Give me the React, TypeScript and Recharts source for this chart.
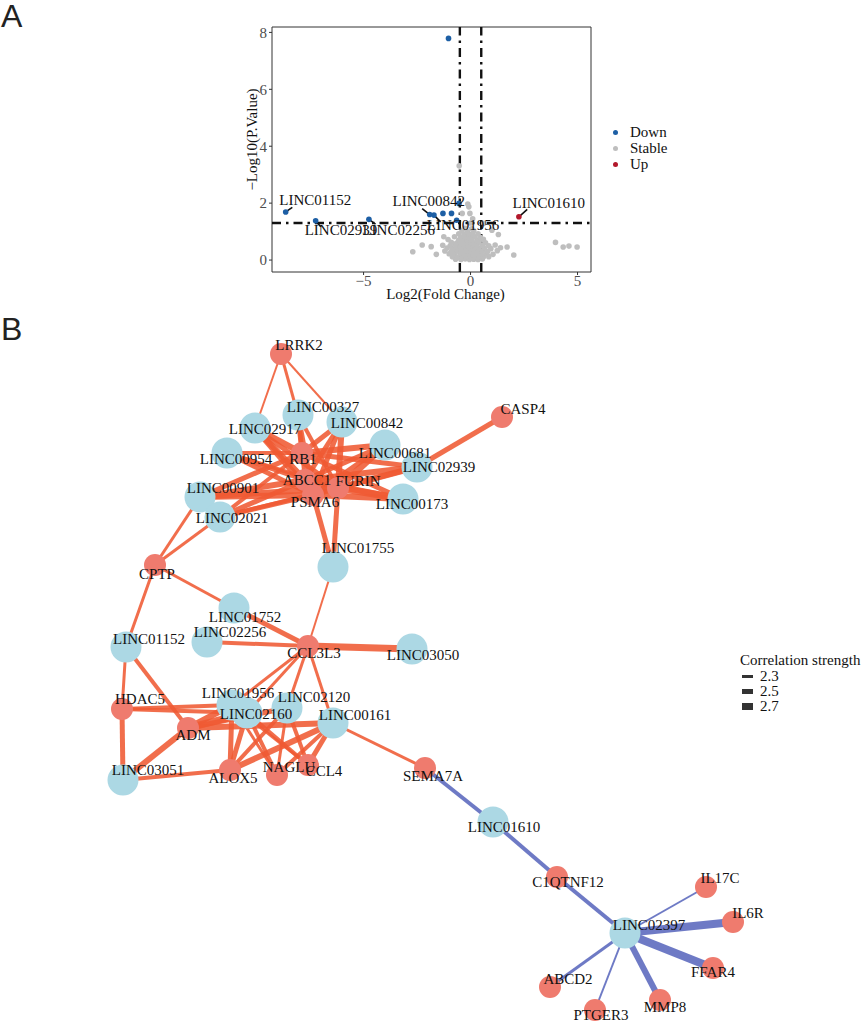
import React from "react";
import {
  ScatterChart,
  Scatter,
  XAxis,
  YAxis,
  ReferenceLine,
  ReferenceArea,
  Label,
} from "recharts";

const SERIF = '"Liberation Serif", "Times New Roman", serif';
const SANS = '"Liberation Sans", Arial, sans-serif';

// ---------- Panel A: volcano plot ----------
const fcTicks = [-5, 0, 5];
const pTicks = [0, 2, 4, 6, 8];
const fcCutoff = 0.5;
const pCutoff = 1.3;

const downGenes = [
  { fc: -1.03, p: 7.79 },
  { fc: -8.64, p: 1.69 },
  { fc: -7.24, p: 1.38 },
  { fc: -4.75, p: 1.43 },
  { fc: -1.91, p: 1.6 },
  { fc: -1.71, p: 1.58 },
  { fc: -1.29, p: 1.64 },
  { fc: -0.89, p: 1.64 },
  { fc: -0.65, p: 1.4 },
  { fc: -0.54, p: 1.99 },
];
const upGenes = [{ fc: 2.26, p: 1.52 }];

// [log2FC, -log10 p]
const stableGenes: [number, number][] = [
  [-0.7, 0.03], [-0.45, 0.02], [-0.25, 0.04], [-0.05, 0.02], [0.15, 0.03], [0.35, 0.02], [0.55, 0.04],
  [-0.85, 0.12], [-0.6, 0.1], [-0.4, 0.13], [-0.2, 0.11], [0, 0.12], [0.2, 0.1], [0.4, 0.13], [0.6, 0.11], [0.85, 0.12],
  [-1.0, 0.22], [-0.75, 0.2], [-0.5, 0.23], [-0.3, 0.21], [-0.1, 0.22], [0.1, 0.2], [0.3, 0.23], [0.5, 0.21], [0.75, 0.22], [1.05, 0.2],
  [-1.2, 0.32], [-0.9, 0.3], [-0.65, 0.33], [-0.45, 0.31], [-0.25, 0.32], [-0.05, 0.3], [0.15, 0.33], [0.35, 0.31], [0.55, 0.32], [0.8, 0.3], [1.25, 0.33],
  [-1.1, 0.42], [-0.85, 0.4], [-0.6, 0.43], [-0.4, 0.41], [-0.2, 0.42], [0, 0.4], [0.2, 0.43], [0.4, 0.41], [0.65, 0.42], [0.95, 0.4], [1.4, 0.43],
  [-1.3, 0.52], [-0.95, 0.5], [-0.7, 0.53], [-0.5, 0.51], [-0.3, 0.52], [-0.1, 0.5], [0.1, 0.53], [0.3, 0.51], [0.55, 0.52], [0.85, 0.5], [1.15, 0.53],
  [-0.9, 0.62], [-0.65, 0.6], [-0.45, 0.63], [-0.25, 0.61], [-0.05, 0.62], [0.15, 0.6], [0.4, 0.63], [0.7, 0.61],
  [-1.05, 0.72], [-0.55, 0.7], [-0.35, 0.73], [-0.15, 0.71], [0.05, 0.72], [0.3, 0.7], [0.6, 0.73],
  [-0.75, 0.82], [-0.45, 0.8], [-0.25, 0.83], [-0.05, 0.81], [0.2, 0.82], [0.45, 0.8],
  [-0.55, 0.92], [-0.3, 0.9], [-0.1, 0.93], [0.1, 0.91], [0.35, 0.92],
  [-0.4, 1.02], [-0.15, 1.0], [0.15, 1.03],
  [-0.25, 1.12], [0.05, 1.1],
  [-2.7, 0.29], [-2.26, 0.53], [-1.84, 0.47], [-1.6, 0.2], [-1.25, 0.82], [-0.81, 0.18],
  [-0.53, 3.31], [-0.39, 1.64], [-0.08, 1.87], [-0.03, 1.64], [-0.13, 1.97], [0.1, 1.45], [0.0, 1.3],
  [0.62, 1.29], [1.0, 1.05], [1.3, 0.9], [1.71, 0.46], [2.02, 0.18],
  [3.97, 0.62], [4.33, 0.46], [4.6, 0.49], [4.98, 0.46],
];

// labelled genes: point, text anchor (tx, ty) and repel segment end (sx, sy)
const labelledGenes = [
  { name: "LINC01152", fc: -8.64, p: 1.69, tx: -7.26, ty: 2.1, sx: -8.33, sy: 1.85 },
  { name: "LINC02939", fc: -7.24, p: 1.38, tx: -6.06, ty: 1.05, sx: -7.0, sy: 1.17 },
  { name: "LINC02256", fc: -4.75, p: 1.43, tx: -3.36, ty: 1.05, sx: -4.44, sy: 1.26 },
  { name: "LINC00842", fc: -1.91, p: 1.6, tx: -1.95, ty: 2.07, sx: -2.26, sy: 1.81 },
  { name: "LINC01956", fc: -1.71, p: 1.58, tx: -0.35, ty: 1.23, sx: -1.4, sy: 1.34 },
  { name: "LINC01610", fc: 2.26, p: 1.52, tx: 3.66, ty: 1.99, sx: 2.65, sy: 1.78 },
];

const volcanoGroups = [
  { name: "Down", color: "#1d5fa5" },
  { name: "Stable", color: "#bebebe" },
  { name: "Up", color: "#b2182b" },
];

const fmtTick = (v: number) => (v < 0 ? `\u2212${-v}` : `${v}`);

const dot = (color: string) => (props: any) =>
  <circle cx={props.cx} cy={props.cy} r={2.8} fill={color} />;

function Volcano() {
  const stableData = stableGenes.map(([fc, p]) => ({ fc, p }));
  const textData = labelledGenes.map((g) => ({ fc: g.tx, p: g.ty, name: g.name }));
  return (
    <ScatterChart
      width={600}
      height={302}
      margin={{ top: 27, right: 9, bottom: 0, left: 240 }}
    >
      <XAxis
        type="number"
        dataKey="fc"
        domain={[-9.28, 5.63]}
        ticks={fcTicks}
        interval={0}
        allowDataOverflow
        axisLine={false}
        tickSize={3}
        tickMargin={0}
        tickLine={{ stroke: "#333" }}
        tick={{ fill: "#4d4d4d", fontSize: 15, fontFamily: SERIF }}
        tickFormatter={fmtTick}
        height={30}
      >
        <Label
          content={(props: any) => {
            const vb = props.viewBox;
            return (
              <text
                x={vb.x + vb.width / 2 + 14}
                y={vb.y + vb.height - 3}
                textAnchor="middle"
                fontSize={15}
                fontFamily={SERIF}
                fill="#111"
              >
                Log2(Fold Change)
              </text>
            );
          }}
        />
      </XAxis>
      <YAxis
        type="number"
        dataKey="p"
        domain={[-0.42, 8.19]}
        ticks={pTicks}
        interval={0}
        allowDataOverflow
        axisLine={false}
        tickSize={3}
        tickLine={{ stroke: "#333" }}
        tick={{ fill: "#4d4d4d", fontSize: 15, fontFamily: SERIF }}
        width={32}
      >
        <Label
          content={(props: any) => {
            const vb = props.viewBox;
            const x = vb.x + 12;
            const y = vb.y + vb.height / 2 - 10;
            return (
              <text
                x={x}
                y={y}
                transform={`rotate(-90, ${x}, ${y})`}
                textAnchor="middle"
                dominantBaseline="central"
                fontSize={15}
                fontFamily={SERIF}
                fill="#111"
              >
                {"\u2212Log10(P.Value)"}
              </text>
            );
          }}
        />
      </YAxis>
      <ReferenceArea
        x1={-9.28}
        x2={5.63}
        y1={-0.42}
        y2={8.19}
        fill="none"
        stroke="#333"
        strokeWidth={1}
        ifOverflow="visible"
      />
      <Scatter data={stableData} shape={dot(volcanoGroups[1].color)} isAnimationActive={false} />
      <Scatter data={downGenes} shape={dot(volcanoGroups[0].color)} isAnimationActive={false} />
      <Scatter data={upGenes} shape={dot(volcanoGroups[2].color)} isAnimationActive={false} />
      {[-fcCutoff, fcCutoff].map((v) => (
        <ReferenceLine key={v} x={v} stroke="#111" strokeWidth={2.4} strokeDasharray="9 5 2.5 5" />
      ))}
      <ReferenceLine y={pCutoff} stroke="#111" strokeWidth={2.4} strokeDasharray="9 5 2.5 5" />
      {labelledGenes.map((g) => (
        <ReferenceLine
          key={g.name}
          segment={[{ x: g.fc, y: g.p }, { x: g.sx, y: g.sy }]}
          stroke="#111"
          strokeWidth={1.6}
          ifOverflow="visible"
        />
      ))}
      <Scatter
        data={textData}
        isAnimationActive={false}
        shape={(props: any) => (
          <text
            x={props.cx}
            y={props.cy}
            textAnchor="middle"
            dominantBaseline="central"
            fontSize={15}
            fontFamily={SERIF}
            fill="#111"
          >
            {props.payload.name}
          </text>
        )}
      />
    </ScatterChart>
  );
}

// ---------- Panel B: co-expression network ----------
// layout coordinates
const nodes = [
  { name: "LRRK2", kind: "gene", x: 281, y: 354 },
  { name: "LINC00327", kind: "lnc", x: 298, y: 415 },
  { name: "LINC02917", kind: "lnc", x: 255, y: 428 },
  { name: "LINC00842", kind: "lnc", x: 342, y: 422 },
  { name: "CASP4", kind: "gene", x: 502, y: 417 },
  { name: "LINC00681", kind: "lnc", x: 385, y: 445 },
  { name: "LINC02939", kind: "lnc", x: 417, y: 467 },
  { name: "LINC00954", kind: "lnc", x: 227, y: 453 },
  { name: "LINC00901", kind: "lnc", x: 200, y: 497 },
  { name: "LINC02021", kind: "lnc", x: 220, y: 517 },
  { name: "LINC00173", kind: "lnc", x: 403, y: 499 },
  { name: "RB1", kind: "gene", x: 302, y: 453 },
  { name: "ABCC1", kind: "gene", x: 305, y: 480 },
  { name: "FURIN", kind: "gene", x: 338, y: 488 },
  { name: "PSMA6", kind: "gene", x: 313, y: 495 },
  { name: "LINC01755", kind: "lnc", x: 333, y: 567 },
  { name: "CPTP", kind: "gene", x: 155, y: 565 },
  { name: "LINC01752", kind: "lnc", x: 234, y: 608 },
  { name: "LINC02256", kind: "lnc", x: 207, y: 642 },
  { name: "LINC01152", kind: "lnc", x: 126, y: 647 },
  { name: "CCL3L3", kind: "gene", x: 308, y: 646 },
  { name: "LINC03050", kind: "lnc", x: 412, y: 649 },
  { name: "HDAC5", kind: "gene", x: 122, y: 709 },
  { name: "LINC01956", kind: "lnc", x: 232, y: 705 },
  { name: "LINC02160", kind: "lnc", x: 247, y: 713 },
  { name: "LINC02120", kind: "lnc", x: 287, y: 708 },
  { name: "LINC00161", kind: "lnc", x: 333, y: 723 },
  { name: "ADM", kind: "gene", x: 188, y: 728 },
  { name: "LINC03051", kind: "lnc", x: 123, y: 780 },
  { name: "ALOX5", kind: "gene", x: 230, y: 770 },
  { name: "NAGLU", kind: "gene", x: 277, y: 775 },
  { name: "CCL4", kind: "gene", x: 308, y: 765 },
  { name: "SEMA7A", kind: "gene", x: 425, y: 768 },
  { name: "LINC01610", kind: "lnc", x: 493, y: 822 },
  { name: "C1QTNF12", kind: "gene", x: 557, y: 877 },
  { name: "LINC02397", kind: "lnc", x: 625, y: 933 },
  { name: "IL17C", kind: "gene", x: 706, y: 887 },
  { name: "IL6R", kind: "gene", x: 733, y: 922 },
  { name: "FFAR4", kind: "gene", x: 713, y: 968 },
  { name: "MMP8", kind: "gene", x: 660, y: 1000 },
  { name: "PTGER3", kind: "gene", x: 595, y: 1010 },
  { name: "ABCD2", kind: "gene", x: 550, y: 987 },
];

// where each node's label sits (layout coordinates)
const labelAt: Record<string, [number, number]> = {
  LRRK2: [299, 345], LINC00327: [323, 407], LINC02917: [265, 429], LINC00842: [367, 423],
  CASP4: [523, 409], LINC00681: [395, 453], LINC02939: [439, 467], LINC00954: [236, 459],
  LINC00901: [223, 488], LINC02021: [232, 518], LINC00173: [412, 504], RB1: [303, 459],
  ABCC1: [307, 480], FURIN: [358, 481], PSMA6: [315, 502], LINC01755: [358, 548],
  CPTP: [157, 574], LINC01752: [245, 617], LINC02256: [230, 632], LINC01152: [149, 639],
  CCL3L3: [314, 653], LINC03050: [423, 655], HDAC5: [140, 699], LINC01956: [238, 693],
  LINC02160: [256, 714], LINC02120: [314, 697], LINC00161: [355, 715], ADM: [193, 735],
  LINC03051: [148, 770], ALOX5: [233, 778], NAGLU: [289, 767], CCL4: [324, 771],
  SEMA7A: [433, 776], LINC01610: [504, 827], C1QTNF12: [568, 882], LINC02397: [649, 925],
  IL17C: [720, 878], IL6R: [748, 913], FFAR4: [713, 972], MMP8: [665, 1007],
  PTGER3: [601, 1015], ABCD2: [568, 979],
};

// [source, target, correlation strength]; negative = inverse correlation
const edges: [string, string, number][] = [
  ["LRRK2", "LINC02917", 2.2], ["LRRK2", "LINC00327", 2.3], ["LRRK2", "LINC00842", 2.2],
  ["CASP4", "LINC02939", 2.5],
  ["RB1", "LINC02917", 2.6], ["RB1", "LINC00327", 2.5], ["RB1", "LINC00842", 2.5], ["RB1", "LINC00681", 2.6],
  ["RB1", "LINC02939", 2.5], ["RB1", "LINC00954", 2.4], ["RB1", "LINC00901", 2.5], ["RB1", "LINC02021", 2.4],
  ["RB1", "LINC00173", 2.5],
  ["ABCC1", "LINC02917", 2.6], ["ABCC1", "LINC00327", 2.4], ["ABCC1", "LINC00842", 2.5], ["ABCC1", "LINC00681", 2.5],
  ["ABCC1", "LINC02939", 2.6], ["ABCC1", "LINC00954", 2.5], ["ABCC1", "LINC00901", 2.6], ["ABCC1", "LINC02021", 2.5],
  ["ABCC1", "LINC00173", 2.6],
  ["FURIN", "LINC02917", 2.5], ["FURIN", "LINC00327", 2.4], ["FURIN", "LINC00842", 2.6], ["FURIN", "LINC00681", 2.7],
  ["FURIN", "LINC02939", 2.6], ["FURIN", "LINC00954", 2.4], ["FURIN", "LINC00901", 2.6], ["FURIN", "LINC02021", 2.4],
  ["FURIN", "LINC00173", 2.7], ["FURIN", "LINC01755", 2.5],
  ["PSMA6", "LINC02917", 2.6], ["PSMA6", "LINC00327", 2.5], ["PSMA6", "LINC00842", 2.5], ["PSMA6", "LINC00681", 2.5],
  ["PSMA6", "LINC02939", 2.5], ["PSMA6", "LINC00954", 2.5], ["PSMA6", "LINC00901", 2.6], ["PSMA6", "LINC02021", 2.5],
  ["PSMA6", "LINC00173", 2.6], ["PSMA6", "LINC01755", 2.5],
  ["CPTP", "LINC00901", 2.3], ["CPTP", "LINC02021", 2.3], ["CPTP", "LINC01752", 2.3], ["CPTP", "LINC01152", 2.3],
  ["HDAC5", "LINC01152", 2.3], ["ADM", "LINC01152", 2.4],
  ["CCL3L3", "LINC01755", 2.2], ["CCL3L3", "LINC01752", 2.5], ["CCL3L3", "LINC02256", 2.4], ["CCL3L3", "LINC03050", 2.7],
  ["CCL3L3", "LINC01956", 2.3], ["CCL3L3", "LINC02120", 2.3], ["CCL3L3", "LINC02160", 2.3], ["CCL3L3", "LINC00161", 2.3],
  ["HDAC5", "LINC03051", 2.5], ["HDAC5", "LINC01956", 2.4], ["HDAC5", "LINC02160", 2.4],
  ["ADM", "LINC03051", 2.6], ["ADM", "LINC01956", 2.6], ["ADM", "LINC02160", 2.7], ["ADM", "LINC02120", 2.5], ["ADM", "LINC00161", 2.6],
  ["ALOX5", "LINC03051", 2.4], ["ALOX5", "LINC01956", 2.5], ["ALOX5", "LINC02160", 2.5], ["ALOX5", "LINC02120", 2.4], ["ALOX5", "LINC00161", 2.6],
  ["NAGLU", "LINC01956", 2.3], ["NAGLU", "LINC02160", 2.4], ["NAGLU", "LINC02120", 2.3], ["NAGLU", "LINC00161", 2.4],
  ["CCL4", "LINC01956", 2.3], ["CCL4", "LINC02160", 2.4], ["CCL4", "LINC02120", 2.4], ["CCL4", "LINC00161", 2.5],
  ["SEMA7A", "LINC00161", 2.3],
  ["SEMA7A", "LINC01610", -2.4], ["C1QTNF12", "LINC01610", -2.4], ["C1QTNF12", "LINC02397", -2.4],
  ["IL17C", "LINC02397", -2.2], ["IL6R", "LINC02397", -2.8], ["FFAR4", "LINC02397", -2.8],
  ["MMP8", "LINC02397", -2.6], ["PTGER3", "LINC02397", -2.2], ["ABCD2", "LINC02397", -2.3],
];

const strengthLegend = [2.3, 2.5, 2.7];

const LNC_COLOR = "#acd8e4";
const GENE_COLOR = "#ef7b6e";
const POS_EDGE = "#ef5a33";
const NEG_EDGE = "#5a68bd";

const edgeWidth = (w: number) => 3 + (Math.abs(w) - 2.3) * 10;
const nodeByName: Record<string, any> = Object.fromEntries(nodes.map((n) => [n.name, n]));

function Network() {
  const labels = nodes.map((n) => ({ x: labelAt[n.name][0], y: labelAt[n.name][1], name: n.name }));
  return (
    <ScatterChart width={865} height={703} margin={{ top: 0, right: 0, bottom: 0, left: 0 }}>
      <XAxis type="number" dataKey="x" domain={[0, 865]} hide allowDataOverflow />
      <YAxis type="number" dataKey="y" domain={[320, 1023]} reversed hide allowDataOverflow />
      {edges.map(([a, b, w], i) => {
        const color = w < 0 ? NEG_EDGE : POS_EDGE;
        return (
          <Scatter
            key={i}
            data={[nodeByName[a], nodeByName[b]]}
            fill={color}
            stroke={color}
            line={{ stroke: color, strokeWidth: edgeWidth(w), strokeOpacity: 0.88 }}
            shape={() => <g />}
            isAnimationActive={false}
          />
        );
      })}
      <Scatter
        data={nodes}
        isAnimationActive={false}
        shape={(props: any) => (
          <circle
            cx={props.cx}
            cy={props.cy}
            r={props.payload.kind === "lnc" ? 15.5 : 11}
            fill={props.payload.kind === "lnc" ? LNC_COLOR : GENE_COLOR}
          />
        )}
      />
      <Scatter
        data={labels}
        isAnimationActive={false}
        shape={(props: any) => (
          <text
            x={props.cx}
            y={props.cy}
            textAnchor="middle"
            dominantBaseline="central"
            fontSize={15}
            fontFamily={SERIF}
            fill="#111"
          >
            {props.payload.name}
          </text>
        )}
      />
    </ScatterChart>
  );
}

export default function App() {
  return (
    <div style={{ position: "absolute", left: 0, top: 0, width: 865, height: 1023, background: "#fff" }}>
      <div style={{ position: "absolute", left: 1, top: -2, fontFamily: SANS, fontSize: 32, color: "#222" }}>A</div>
      <div style={{ position: "absolute", left: 1, top: 311, fontFamily: SANS, fontSize: 32, color: "#222" }}>B</div>

      <div style={{ position: "absolute", left: 0, top: 0 }}>
        <Volcano />
      </div>
      <div style={{ position: "absolute", left: 611, top: 124, fontFamily: SERIF, fontSize: 15, color: "#111" }}>
        {volcanoGroups.map((g) => (
          <div key={g.name} style={{ display: "flex", alignItems: "center", height: 16 }}>
            <span
              style={{ width: 5, height: 5, borderRadius: "50%", background: g.color, display: "inline-block", marginLeft: 2, marginRight: 12 }}
            />
            <span>{g.name}</span>
          </div>
        ))}
      </div>

      <div style={{ position: "absolute", left: 0, top: 320 }}>
        <Network />
      </div>
      <div style={{ position: "absolute", left: 740, top: 651, fontFamily: SERIF, fontSize: 15, color: "#111" }}>
        <div style={{ height: 18, lineHeight: "18px" }}>Correlation strength</div>
        {strengthLegend.map((s) => (
          <div key={s} style={{ display: "flex", alignItems: "center", height: 15 }}>
            <span style={{ width: 11, height: edgeWidth(s), background: "#333", display: "inline-block", marginLeft: 2, marginRight: 7 }} />
            <span>{s.toFixed(1)}</span>
          </div>
        ))}
      </div>
    </div>
  );
}
